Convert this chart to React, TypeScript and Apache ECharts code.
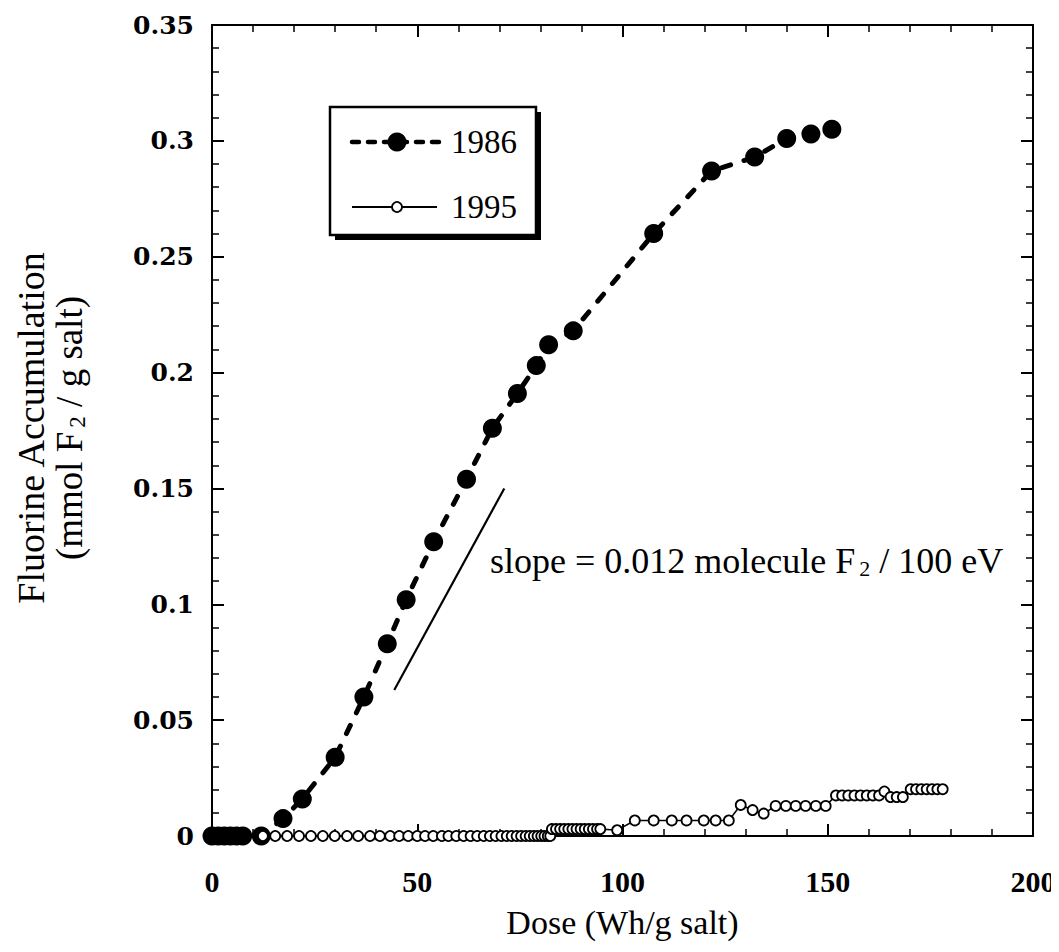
import React, { useEffect, useRef } from "react";
import * as echarts from "echarts";

const dose1986 = [0, 1.5, 3, 4.5, 6, 7.5, 12, 17.3, 22, 30, 37, 42.7, 47.3, 54, 62, 68.3, 74.4, 79, 82, 88, 107.6, 121.7, 132.2, 140, 145.9, 151];
const fluor1986 = [0, 0, 0, 0, 0, 0, 0, 0.0075, 0.016, 0.034, 0.06, 0.083, 0.102, 0.127, 0.154, 0.176, 0.191, 0.203, 0.212, 0.218, 0.26, 0.287, 0.293, 0.301, 0.303, 0.305];

const dose1995 = [
  12.4, 15.4, 18.3, 21.2, 24.1, 27, 29.9, 32.9, 35.6, 38.5, 40.9, 43.4, 45.6, 47.8, 50, 51.9, 53.9, 56, 57.6,
  59.5, 61.3, 63, 64.6, 66.2, 67.7, 69.1, 70.5, 71.8, 73, 74.2, 75.3, 76.4, 77.4, 78.4, 79.3, 80.2, 81, 81.8, 82.4,
  82.8, 83.8, 84.8, 85.8, 86.8, 87.8, 88.8, 89.8, 90.8, 91.8, 92.8, 93.8, 94.6, 98.7,
  103, 107.6, 112, 115.6, 119.8, 122.7, 125.9,
  128.8, 131.7, 134.4, 137.3, 139.8, 142.2, 144.6, 147.1, 149.5,
  152, 153.5, 155, 156.5, 158, 159.5, 161, 162.5, 163.8, 165.3, 166.8, 168.3,
  170.2, 171.5, 172.8, 174.1, 175.4, 176.7, 178,
];
const fluor1995 = [
  0, 0, 0, 0, 0, 0, 0, 0, 0, 0, 0, 0, 0, 0, 0, 0, 0, 0, 0,
  0, 0, 0, 0, 0, 0, 0, 0, 0, 0, 0, 0, 0, 0, 0, 0, 0, 0, 0, 0,
  0.003, 0.003, 0.003, 0.003, 0.003, 0.003, 0.003, 0.003, 0.003, 0.003, 0.003, 0.003, 0.003, 0.0025,
  0.0067, 0.0067, 0.0067, 0.0067, 0.0067, 0.0067, 0.0067,
  0.0134, 0.0112, 0.0097, 0.013, 0.013, 0.013, 0.013, 0.013, 0.013,
  0.0175, 0.0175, 0.0175, 0.0175, 0.0175, 0.0175, 0.0175, 0.0175, 0.0192, 0.0168, 0.0168, 0.0168,
  0.0202, 0.0202, 0.0202, 0.0202, 0.0202, 0.0202, 0.0202,
];

const slopeDose = [44.4, 71.2];
const slopeFluor = [0.063, 0.15];

const xTitle = "Dose (Wh/g salt)";
const yTitle1 = "Fluorine Accumulation";
const FONT = "'Liberation Serif', 'DejaVu Serif', serif";
const YFONT = "'DejaVu Serif', serif";

const pairs = (xs: number[], ys: number[]) => xs.map((x, i) => [x, ys[i]]);

export default function App() {
  const ref = useRef<HTMLDivElement>(null);
  useEffect(() => {
    if (!ref.current) return;
    const chart = echarts.init(ref.current, undefined, { renderer: "svg" });
    const axisCommon = {
      type: "value" as const,
      axisLine: { show: true, onZero: false, lineStyle: { color: "#000", width: 2 } },
      axisTick: { show: true, inside: true, length: 12, lineStyle: { color: "#000", width: 2 } },
      minorTick: { show: true, splitNumber: 5, length: 7, lineStyle: { color: "#000", width: 1.5 } },
      splitLine: { show: false },
      minorSplitLine: { show: false },
    };
    const richFor = (size: number, sub: number, drop: number) => ({
      a: { fontFamily: FONT, fontSize: size, color: "#000", lineHeight: size + 4, verticalAlign: "top" as const },
      s: { fontFamily: FONT, fontSize: sub, color: "#000", lineHeight: size + 4, verticalAlign: "top" as const, padding: [drop, 0, 0, 4] },
    });
    chart.setOption({
      animation: false,
      backgroundColor: "#fff",
      grid: { left: 212, right: 26, top: 25, bottom: 116, containLabel: false },
      xAxis: [
        {
          ...axisCommon,
          min: 0, max: 200, interval: 50, position: "bottom",
          axisLabel: { fontFamily: FONT, fontWeight: "bold", fontSize: 30, color: "#000", margin: 30 },
          name: xTitle, nameLocation: "middle", nameGap: 69,
          nameTextStyle: { fontFamily: FONT, fontSize: 34, color: "#000" },
        },
        {
          ...axisCommon,
          min: 0, max: 200, interval: 50, position: "top",
          axisLabel: { show: false },
        },
      ],
      yAxis: [
        {
          ...axisCommon,
          min: 0, max: 0.35, interval: 0.05, position: "left",
          axisLabel: { fontFamily: YFONT, fontWeight: "bold", fontSize: 25, color: "#000", margin: 18 },
        },
        {
          ...axisCommon,
          min: 0, max: 0.35, interval: 0.05, position: "right",
          axisLabel: { show: false },
        },
      ],
      series: [
        {
          name: "1986", type: "line", data: pairs(dose1986, fluor1986),
          symbol: "circle", symbolSize: 19, showAllSymbol: true,
          lineStyle: { color: "#000", width: 5, type: [9, 14], cap: "round" },
          itemStyle: { color: "#000" }, z: 2,
        },
        {
          name: "1995", type: "line", data: pairs(dose1995, fluor1995),
          symbol: "circle", symbolSize: 10, showAllSymbol: true,
          lineStyle: { color: "#000", width: 1.5 },
          itemStyle: { color: "#fff", borderColor: "#000", borderWidth: 1.8 }, z: 3,
        },
        {
          name: "slope", type: "line", data: pairs(slopeDose, slopeFluor),
          symbol: "none", lineStyle: { color: "#000", width: 2.2 }, z: 2,
        },
      ],
      graphic: [
        { type: "rect", shape: { x: 335, y: 112, width: 206, height: 128 }, style: { fill: "#000" }, z: 10 },
        { type: "rect", shape: { x: 330, y: 107, width: 206, height: 128 }, style: { fill: "#fff", stroke: "#000", lineWidth: 2.5 }, z: 11 },
        { type: "line", shape: { x1: 352, y1: 142, x2: 443, y2: 142 }, style: { stroke: "#000", lineWidth: 4.5, lineDash: [7, 9], lineCap: "round" }, z: 12 },
        { type: "circle", shape: { cx: 397, cy: 142, r: 9.5 }, style: { fill: "#000" }, z: 13 },
        { type: "text", x: 451, y: 142, style: { text: "1986", font: `33px ${FONT}`, fill: "#000", verticalAlign: "middle" }, z: 13 },
        { type: "line", shape: { x1: 352, y1: 207, x2: 437, y2: 207 }, style: { stroke: "#000", lineWidth: 1.8 }, z: 12 },
        { type: "circle", shape: { cx: 397, cy: 207, r: 5 }, style: { fill: "#fff", stroke: "#000", lineWidth: 1.8 }, z: 13 },
        { type: "text", x: 451, y: 207, style: { text: "1995", font: `33px ${FONT}`, fill: "#000", verticalAlign: "middle" }, z: 13 },
        {
          type: "text", x: 490, y: 543,
          style: { text: "{a|slope = 0.012 molecule F}{s|2}{a| / 100 eV}", rich: richFor(36, 22, 14), fill: "#000" }, z: 13,
        },
        {
          type: "text", x: 31, y: 428, rotation: Math.PI / 2,
          style: { text: yTitle1, font: `38px ${FONT}`, fill: "#000", align: "center", verticalAlign: "middle" }, z: 13,
        },
        {
          type: "text", x: 71, y: 428, rotation: Math.PI / 2,
          style: { text: "{a|(mmol F}{s|2}{a| / g salt)}", rich: richFor(37, 23, 15), fill: "#000", align: "center", verticalAlign: "middle" }, z: 13,
        },
      ],
    });
    return () => chart.dispose();
  }, []);
  return <div ref={ref} style={{ width: 1059, height: 952, margin: -8 }} />;
}
